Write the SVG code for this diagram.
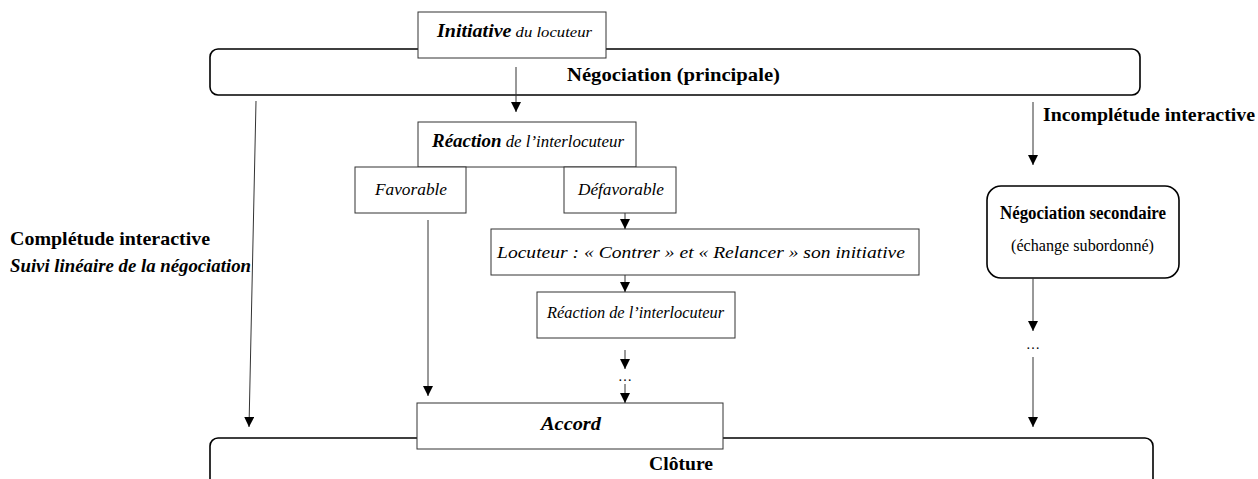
<svg xmlns="http://www.w3.org/2000/svg" width="1258" height="479" viewBox="0 0 1258 479">
<style>
.t{font-family:"Liberation Serif","DejaVu Serif",serif;fill:#000}
.b{font-weight:bold}
.i{font-style:italic}
.box{fill:#fff;stroke:#333;stroke-width:1}
.rbox{fill:#fff;stroke:#000;stroke-width:1.6}
.ln{stroke:#333;stroke-width:1;fill:none}
</style>
<defs>
<marker id="ah" viewBox="0 0 10 10" refX="10" refY="5" markerWidth="10" markerHeight="10" markerUnits="userSpaceOnUse" orient="auto">
<path d="M0,0 L10,5 L0,10 Z" fill="#000"/>
</marker>
</defs>
<rect width="1258" height="479" fill="#fff"/>
<g id="cloture">
<rect class="rbox" x="210" y="438" width="943" height="80" rx="8"/>
<text class="t b" x="649" y="470" font-size="18" textLength="64" lengthAdjust="spacingAndGlyphs">Clôture</text>
</g>
<g id="negociation">
<rect class="rbox" x="210" y="49" width="930" height="46" rx="8"/>
<text class="t b" x="567" y="81" font-size="19" textLength="213" lengthAdjust="spacingAndGlyphs">Négociation (principale)</text>
</g>
<g id="initiative">
<rect class="box" x="418" y="12" width="188" height="46"/>
<text class="t" x="437" y="37" textLength="155" lengthAdjust="spacingAndGlyphs"><tspan class="b i" font-size="18">Initiative</tspan><tspan class="i" font-size="15"> du locuteur</tspan></text>
</g>
<g id="reaction">
<rect class="box" x="418" y="122" width="218" height="45"/>
<text class="t" x="432" y="147" textLength="192" lengthAdjust="spacingAndGlyphs"><tspan class="b i" font-size="18">Réaction</tspan><tspan class="i" font-size="16"> de l’interlocuteur</tspan></text>
</g>
<g id="favorable">
<rect class="box" x="355" y="167" width="111" height="46"/>
<text class="t i" x="375" y="195" font-size="16.5" textLength="72" lengthAdjust="spacingAndGlyphs">Favorable</text>
</g>
<g id="defavorable">
<rect class="box" x="564" y="167" width="112" height="46"/>
<text class="t i" x="578" y="195" font-size="16.5" textLength="86" lengthAdjust="spacingAndGlyphs">Défavorable</text>
</g>
<g id="locuteur">
<rect class="box" x="491" y="229" width="428" height="46"/>
<text class="t i" x="497" y="258" font-size="16.5" textLength="408" lengthAdjust="spacingAndGlyphs">Locuteur : « Contrer » et « Relancer » son initiative</text>
</g>
<g id="reaction2">
<rect class="box" x="537" y="292" width="198" height="46"/>
<text class="t i" x="547" y="318" font-size="16" textLength="177" lengthAdjust="spacingAndGlyphs">Réaction de l’interlocuteur</text>
</g>
<g id="accord">
<rect class="box" x="417" y="403" width="306" height="46"/>
<text class="t b i" x="541" y="430" font-size="18" textLength="60" lengthAdjust="spacingAndGlyphs">Accord</text>
</g>
<g id="secondaire">
<rect class="rbox" x="987" y="186" width="192" height="92" rx="14"/>
<text class="t b" x="1000" y="219" font-size="18" textLength="166" lengthAdjust="spacingAndGlyphs">Négociation secondaire</text>
<text class="t" x="1011" y="251" font-size="17" textLength="143" lengthAdjust="spacingAndGlyphs">(échange subordonné)</text>
</g>
<g id="labels">
<text class="t b" x="10" y="245" font-size="19" textLength="200" lengthAdjust="spacingAndGlyphs">Complétude interactive</text>
<text class="t b i" x="10" y="272" font-size="18" textLength="241" lengthAdjust="spacingAndGlyphs">Suivi linéaire de la négociation</text>
<text class="t b" x="1043" y="121" font-size="19" textLength="212" lengthAdjust="spacingAndGlyphs">Incomplétude interactive</text>
</g>
<g id="connectors">
<line class="ln" x1="516" y1="67" x2="516" y2="112" marker-end="url(#ah)"/>
<line class="ln" x1="256" y1="101" x2="249" y2="427" marker-end="url(#ah)"/>
<line class="ln" x1="428" y1="220" x2="428" y2="396" marker-end="url(#ah)"/>
<line class="ln" x1="625" y1="213" x2="625" y2="229" marker-end="url(#ah)"/>
<line class="ln" x1="625" y1="275" x2="625" y2="292" marker-end="url(#ah)"/>
<line class="ln" x1="625" y1="350" x2="625" y2="369" marker-end="url(#ah)"/>
<text class="t" x="625" y="381" font-size="14" text-anchor="middle">…</text>
<line class="ln" x1="625" y1="384" x2="625" y2="403" marker-end="url(#ah)"/>
<line class="ln" x1="1033" y1="102" x2="1033" y2="165" marker-end="url(#ah)"/>
<line class="ln" x1="1033" y1="278" x2="1033" y2="331" marker-end="url(#ah)"/>
<text class="t" x="1033" y="349" font-size="14" text-anchor="middle">…</text>
<line class="ln" x1="1033" y1="357" x2="1033" y2="427" marker-end="url(#ah)"/>
</g>
</svg>
